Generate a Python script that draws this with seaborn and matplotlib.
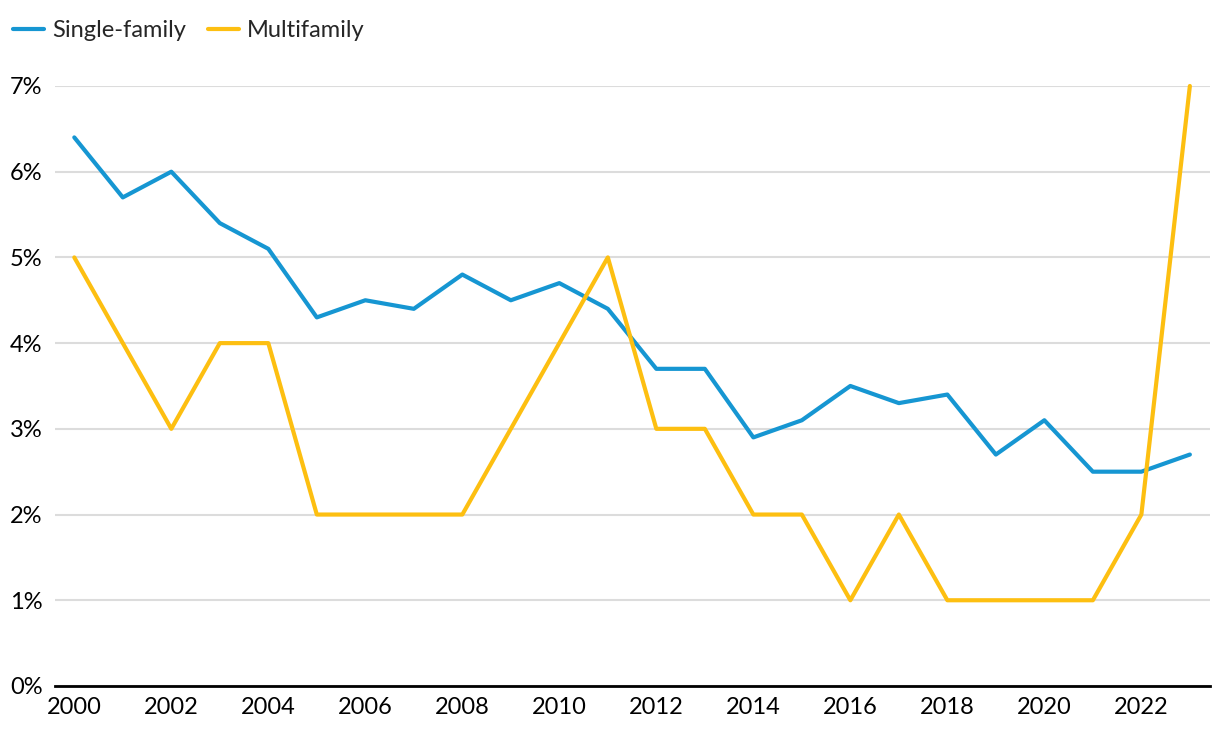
import pandas as pd
import matplotlib.pyplot as plt
import seaborn as sns
from matplotlib.ticker import FuncFormatter, MultipleLocator

# === Données ===
years = list(range(2000, 2024))
single_family = [6.4, 5.7, 6.0, 5.4, 5.1, 4.3, 4.5, 4.4, 4.8, 4.5, 4.7, 4.4,
                 3.7, 3.7, 2.9, 3.1, 3.5, 3.3, 3.4, 2.7, 3.1, 2.5, 2.5, 2.7]
multifamily = [5, 4, 3, 4, 4, 2, 2, 2, 2, 3, 4, 5,
               3, 3, 2, 2, 1, 2, 1, 1, 1, 1, 2, 7]
series_names = ["Single-family", "Multifamily"]
colors = ["#1696d2", "#fdbf11"]

df = pd.DataFrame({"year": years,
                   series_names[0]: single_family,
                   series_names[1]: multifamily})
df_long = df.melt(id_vars="year", var_name="type", value_name="share")

# === Style ===
sns.set_theme(style="white")
plt.rcParams["font.family"] = ["Lato", "DejaVu Sans"]

fig = plt.figure(figsize=(12.2, 7.38), dpi=100)
ax = fig.add_axes([0.045, 0.0705, 0.947, 0.813])

sns.lineplot(data=df_long, x="year", y="share", hue="type",
             palette=colors, linewidth=3, ax=ax, legend=False, clip_on=False)

ax.set_xlim(1999.6, 2023.42)
ax.set_ylim(0, 7)
ax.xaxis.set_major_locator(MultipleLocator(2))
ax.yaxis.set_major_locator(MultipleLocator(1))
ax.yaxis.set_major_formatter(FuncFormatter(lambda v, p: f"{v:.0f}%"))
ax.grid(axis="y", color="#dcdcdc", linewidth=1.5)
ax.set_axisbelow(True)
for s in ["top", "right", "left"]:
    ax.spines[s].set_visible(False)
ax.spines["bottom"].set_color("black")
ax.spines["bottom"].set_linewidth(2)
ax.tick_params(axis="both", labelsize=17, length=0, colors="black")
ax.tick_params(axis="x", pad=8)
ax.tick_params(axis="y", pad=9)
ax.set_xlabel("")
ax.set_ylabel("")

# === Légende ===
handles = [plt.Line2D([], [], color=c, linewidth=3) for c in colors]
fig.legend(handles, series_names, loc="upper left", bbox_to_anchor=(0.0, 0.99),
           ncol=2, frameon=False, fontsize=17, handlelength=1.3,
           handletextpad=0.35, columnspacing=0.95, borderaxespad=0.15)

fig.savefig("out.png", dpi=100)
